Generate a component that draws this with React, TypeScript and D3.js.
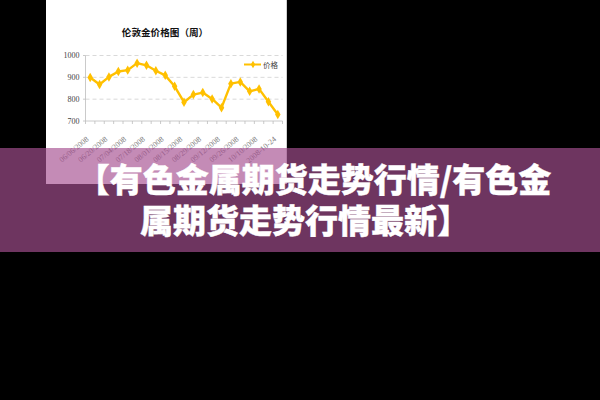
import React from "react";
import * as d3 from "d3";

const dates = [
  "06/06/2008", "06/13/2008", "06/20/2008", "06/27/2008", "07/04/2008", "07/11/2008",
  "07/18/2008", "07/25/2008", "08/01/2008", "08/08/2008", "08/15/2008", "08/22/2008",
  "08/29/2008", "09/05/2008", "09/12/2008", "09/19/2008", "09/26/2008", "10/03/2008",
  "10/10/2008", "10/17/2008", "2008-10-24",
];
const prices = [
  899, 867, 902, 927, 933, 965, 955, 930, 909, 859, 786, 821,
  830, 801, 761, 871, 879, 836, 847, 788, 730,
];
const yTicks = [700, 800, 900, 1000];
const gridTicks = [800, 900, 1000];
const titleText = "伦敦金价格图（周）";
const legendText = "价格";
const headline1 = "【有色金属期货走势行情/有色金";
const headline2 = "属期货走势行情最新】";

export default function App() {
  const x = d3.scaleBand<number>().domain(d3.range(dates.length)).range([85.5, 282.5]);
  const y = d3.scaleLinear().domain([700, 1000]).range([121, 55.5]);
  const cx = (i: number) => (x(i) as number) + x.bandwidth() / 2;
  const line = d3.line<number>().x((_, i) => cx(i)).y((d) => y(d));
  const diamond = d3.symbol().type(d3.symbolDiamond).size(26)() as string;
  const gold = "#FFC000";
  const serif = "'Liberation Serif', 'DejaVu Serif', serif";
  const cjk = "'Noto Sans CJK SC', sans-serif";
  const boundaries = d3.range(dates.length + 1).map((i) => 85.5 + i * x.step());

  return (
    <svg width={600} height={400} style={{ position: "absolute", left: 0, top: 0 }}>
      <rect width={600} height={400} fill="#000" />
      <rect x={46} y={0} width={241} height={184} fill="#fff" />
      <line x1={286.5} x2={286.5} y1={0} y2={184} stroke="#d0d0d0" />
      <text x={165} y={36} textAnchor="middle" fontFamily={cjk} fontWeight={700} fontSize={9.6} fill="#111">
        {titleText}
      </text>
      {gridTicks.map((t) => (
        <line key={t} x1={85.5} x2={282.5} y1={y(t)} y2={y(t)} stroke="#cfcfcf" strokeWidth={0.8} strokeDasharray="4,3" />
      ))}
      <line x1={85.5} x2={85.5} y1={y(1000)} y2={y(700)} stroke="#bdbdbd" strokeWidth={0.8} />
      <line x1={85.5} x2={282.5} y1={y(700)} y2={y(700)} stroke="#bdbdbd" strokeWidth={0.8} />
      {yTicks.map((t) => (
        <g key={t}>
          <line x1={83} x2={85.5} y1={y(t)} y2={y(t)} stroke="#bdbdbd" strokeWidth={0.8} />
          <text x={79.5} y={y(t) + 2.8} textAnchor="end" fontFamily={serif} fontSize={8} fill="#444">
            {t}
          </text>
        </g>
      ))}
      {boundaries.map((b, i) => (
        <line key={i} x1={b} x2={b} y1={y(700)} y2={y(700) + 3} stroke="#bdbdbd" strokeWidth={0.8} />
      ))}
      {dates.map((d, i) =>
        i % 2 === 0 ? (
          <text
            key={d}
            transform={`translate(${cx(i) - 1},${y(700) + 19}) rotate(-40)`}
            textAnchor="end"
            fontFamily={serif}
            fontSize={7.8}
            fill="#777"
          >
            {d}
          </text>
        ) : null
      )}
      <path d={line(prices) as string} fill="none" stroke={gold} strokeWidth={2.4} strokeLinejoin="round" />
      {prices.map((p, i) => (
        <path key={i} d={diamond} transform={`translate(${cx(i)},${y(p)})`} fill={gold} />
      ))}
      <line x1={244} x2={261} y1={64.5} y2={64.5} stroke={gold} strokeWidth={2} />
      <path d={diamond} transform="translate(253,64.5) scale(0.8)" fill={gold} />
      <text x={263} y={67.5} fontFamily={cjk} fontSize={7.5} fill="#444">
        {legendText}
      </text>
      <rect x={0} y={148} width={600} height={104} fill="rgb(166,80,145)" fillOpacity={0.663} />
      <g fontFamily={cjk} fontWeight={900} fontSize={33} fill="#fff" stroke="#fff" strokeWidth={0.4} textAnchor="middle">
        <text x={314} y={192}>{headline1}</text>
        <text x={305} y={233}>{headline2}</text>
      </g>
    </svg>
  );
}
